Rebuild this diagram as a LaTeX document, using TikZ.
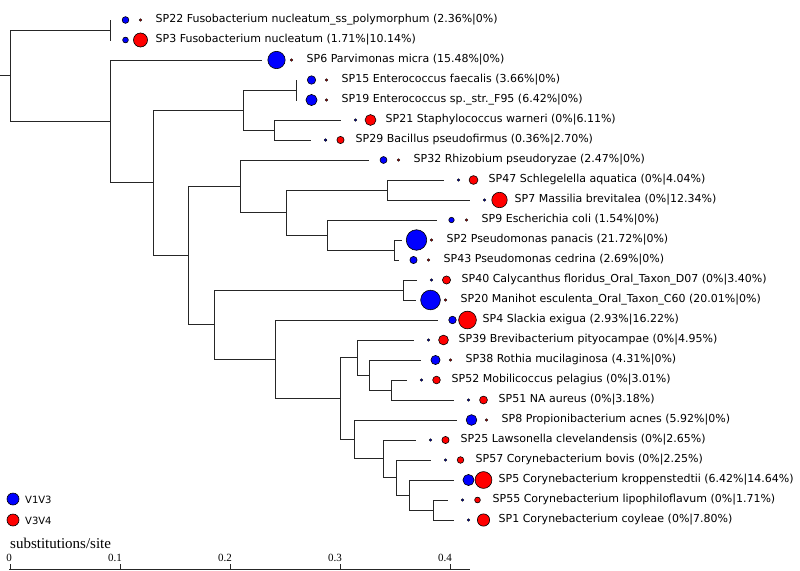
\documentclass[tikz,border=0pt]{standalone}
\usepackage{fontspec}
\setmainfont{DejaVu Sans}
\newfontfamily\scalefont{Liberation Serif}
\usepackage{tikz}
\usetikzlibrary{positioning}
\definecolor{vblue}{RGB}{0,0,255}
\definecolor{vred}{RGB}{255,0,0}

\tikzset{
  branch/.style={draw=black!85, line width=1pt},
  region/.style={circle, draw=black, line width=0.6pt, inner sep=0pt},
  leaflabel/.style={anchor=west, inner sep=0pt, font=\fontsize{11}{13}\selectfont},
  ticklabel/.style={anchor=east, inner sep=0pt, font=\scalefont\fontsize{11}{13}\selectfont},
}

\begin{document}
\begin{tikzpicture}[x=1pt, y=-1pt]
\useasboundingbox (0,0) rectangle (800,570);

% inner nodes of the tree
\coordinate (stub) at (0,75);
\coordinate (root) at (10,75);
\coordinate (nA) at (110,30);
\coordinate (nB) at (110,121);
\coordinate (nC) at (153,182);
\coordinate (nD) at (243,110);
\coordinate (nE) at (296,90);
\coordinate (nF) at (274,130);
\coordinate (nG) at (188,255);
\coordinate (nH) at (240,186);
\coordinate (nI) at (286,212);
\coordinate (nJ) at (387,190);
\coordinate (nK) at (327,235);
\coordinate (nL) at (394,250);
\coordinate (nM) at (214,324);
\coordinate (nN) at (403,290);
\coordinate (nO) at (275,359);
\coordinate (nP) at (340,398);
\coordinate (nQ) at (357,357);
\coordinate (nR) at (369,375);
\coordinate (nS) at (391,390);
\coordinate (nT) at (354,439);
\coordinate (nU) at (383,458);
\coordinate (nV) at (396,477);
\coordinate (nW) at (409,495);
\coordinate (nX) at (433,510);

% leaves: id / y / branch end / V1V3 % / V3V4 % / label
\foreach \id/\y/\xe/\pb/\pr/\lab in {
  sp22/20/111/2.36/0/{SP22 Fusobacterium nucleatum\_ss\_polymorphum (2.36\%|0\%)},
  sp3/40/111/1.71/10.14/{SP3 Fusobacterium nucleatum (1.71\%|10.14\%)},
  sp6/60/262/15.48/0/{SP6 Parvimonas micra (15.48\%|0\%)},
  sp15/80/297/3.66/0/{SP15 Enterococcus faecalis (3.66\%|0\%)},
  sp19/100/297/6.42/0/{SP19 Enterococcus sp.\_str.\_F95 (6.42\%|0\%)},
  sp21/120/341/0/6.11/{SP21 Staphylococcus warneri (0\%|6.11\%)},
  sp29/140/311/0.36/2.70/{SP29 Bacillus pseudofirmus (0.36\%|2.70\%)},
  sp32/160/369/2.47/0/{SP32 Rhizobium pseudoryzae (2.47\%|0\%)},
  sp47/180/444/0/4.04/{SP47 Schlegelella aquatica (0\%|4.04\%)},
  sp7/200/470/0/12.34/{SP7 Massilia brevitalea (0\%|12.34\%)},
  sp9/220/437/1.54/0/{SP9 Escherichia coli (1.54\%|0\%)},
  sp2/240/402/21.72/0/{SP2 Pseudomonas panacis (21.72\%|0\%)},
  sp43/260/399/2.69/0/{SP43 Pseudomonas cedrina (2.69\%|0\%)},
  sp40/280/417/0/3.40/{SP40 Calycanthus floridus\_Oral\_Taxon\_D07 (0\%|3.40\%)},
  sp20/300/416/20.01/0/{SP20 Manihot esculenta\_Oral\_Taxon\_C60 (20.01\%|0\%)},
  sp4/320/438/2.93/16.22/{SP4 Slackia exigua (2.93\%|16.22\%)},
  sp39/340/414/0/4.95/{SP39 Brevibacterium pityocampae (0\%|4.95\%)},
  sp38/360/421/4.31/0/{SP38 Rothia mucilaginosa (4.31\%|0\%)},
  sp52/380/407/0/3.01/{SP52 Mobilicoccus pelagius (0\%|3.01\%)},
  sp51/400/454/0/3.18/{SP51 NA aureus (0\%|3.18\%)},
  sp8/420/457/5.92/0/{SP8 Propionibacterium acnes (5.92\%|0\%)},
  sp25/440/416/0/2.65/{SP25 Lawsonella clevelandensis (0\%|2.65\%)},
  sp57/460/431/0/2.25/{SP57 Corynebacterium bovis (0\%|2.25\%)},
  sp5/480/454/6.42/14.64/{SP5 Corynebacterium kroppenstedtii (6.42\%|14.64\%)},
  sp55/500/448/0/1.71/{SP55 Corynebacterium lipophiloflavum (0\%|1.71\%)},
  sp1/520/454/0/7.80/{SP1 Corynebacterium coyleae (0\%|7.80\%)}%
}{
  \pgfmathsetmacro\rb{max(1.2,2.2*sqrt(\pb))}
  \pgfmathsetmacro\rr{max(1.2,2.2*sqrt(\pr))}
  \coordinate (\id) at (\xe,\y);
  \node[region, fill=vblue, minimum size=2*\rb pt] (\id b) at (\xe+14.5,\y) {};
  \node[region, fill=vred, minimum size=2*\rr pt] (\id r) at (\xe+29.5,\y) {};
  \node[leaflabel] (\id t) at (\xe+44.5,\y) {\lab};
}

% branches
\draw[branch] (stub) -- (root);
\foreach \p/\c in {root/nA, root/nB, nA/sp22, nA/sp3, nB/sp6, nB/nC,
  nC/nD, nC/nG, nD/nE, nD/nF, nE/sp15, nE/sp19, nF/sp21, nF/sp29,
  nG/nH, nG/nM, nH/sp32, nH/nI, nI/nJ, nI/nK, nJ/sp47, nJ/sp7,
  nK/sp9, nK/nL, nL/sp2, nL/sp43, nM/nN, nM/nO, nN/sp40, nN/sp20,
  nO/sp4, nO/nP, nP/nQ, nP/nT, nQ/sp39, nQ/nR, nR/sp38, nR/nS,
  nS/sp52, nS/sp51, nT/sp8, nT/nU, nU/sp25, nU/nV, nV/sp57, nV/nW,
  nW/sp5, nW/nX, nX/sp55, nX/sp1}
  \draw[branch] (\p) |- (\c);

% legend
\node[region, fill=vblue, minimum size=12pt] (legb) at (13,499) {};
\node[region, fill=vred, minimum size=12pt] (legr) at (13,520) {};
\node[anchor=west, inner sep=0pt, font=\fontsize{10}{12}\selectfont] (legbt) at (25,500) {V1V3};
\node[anchor=west, inner sep=0pt, font=\fontsize{10}{12}\selectfont] (legrt) at (25,521) {V3V4};

% scale
\node[anchor=base west, inner sep=0pt, font=\scalefont\fontsize{15}{17}\selectfont] (unit) at (10,548) {substitutions/site};
\coordinate (axl) at (9,569);
\coordinate (axr) at (470,569);
\draw[branch] (axl) -- (axr);
\foreach \x/\v [count=\i] in {10/0, 120/0.1, 230/0.2, 340/0.3, 450/0.4} {
  \draw[branch] (\x,569) -- (\x,564);
  \node[ticklabel] (tick\i) at (\x+2,557.5) {\v};
}
\end{tikzpicture}
\end{document}
